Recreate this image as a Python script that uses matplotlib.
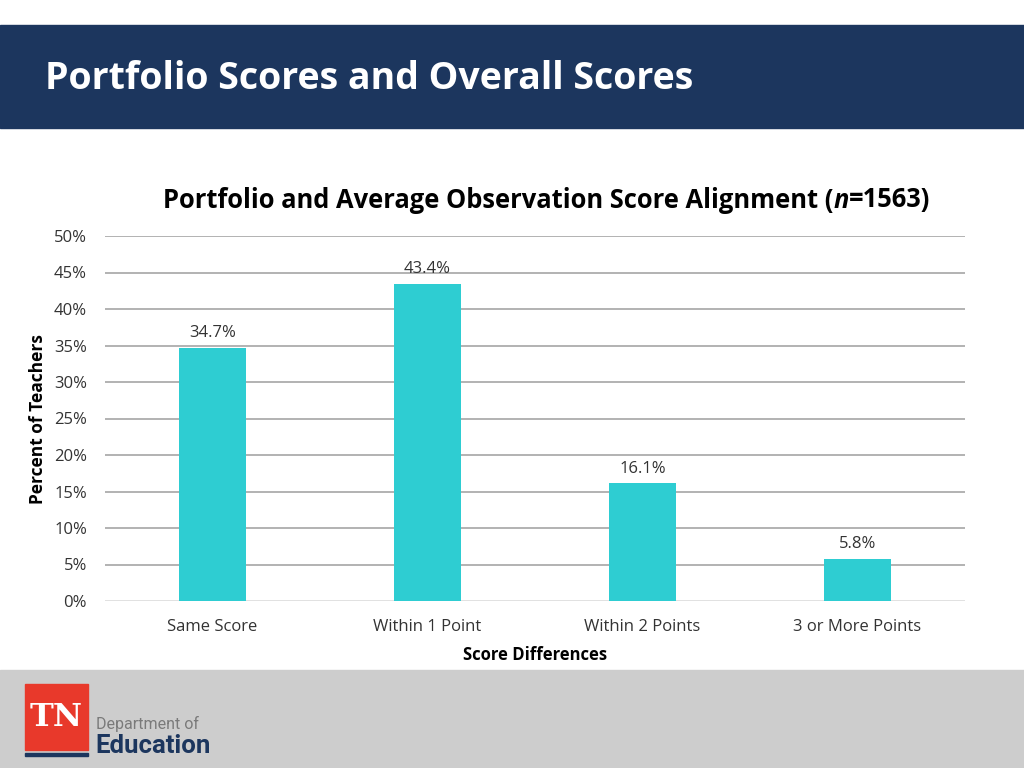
import matplotlib.pyplot as plt
from matplotlib.patches import Rectangle

categories = ["Same Score", "Within 1 Point", "Within 2 Points", "3 or More Points"]
percents = [34.7, 43.4, 16.1, 5.8]
yticks = [0, 5, 10, 15, 20, 25, 30, 35, 40, 45, 50]

navy = "#1c365e"
teal = "#2ecdd2"
W, H = 1024, 768

plt.rcParams['font.family'] = ['Open Sans', 'DejaVu Sans']

fig = plt.figure(figsize=(10.24, 7.68), dpi=100)

# background bands (header, footer)
fig.patches.append(Rectangle((0, 1 - 128 / H), 1, 103 / H, transform=fig.transFigure,
                             color=navy, zorder=0))
fig.patches.append(Rectangle((0, 0), 1, 98 / H, transform=fig.transFigure,
                             color="#cdcdcd", zorder=0))
fig.text(45 / W, 1 - 79 / H, "Portfolio Scores and Overall Scores", color="white",
         fontsize=27, fontweight="bold", va="center", ha="left", family="Open Sans")

# logo
fig.patches.append(Rectangle((25 / W, 1 - 750 / H), 63 / W, 66 / H, transform=fig.transFigure,
                             color="#e8392b", zorder=1))
fig.patches.append(Rectangle((25 / W, 1 - 756 / H), 63 / W, 3 / H, transform=fig.transFigure,
                             color=navy, zorder=1))
fig.text(56 / W, 1 - 717 / H, "TN", color="white", fontsize=23, family="DejaVu Serif",
         fontweight="bold", ha="center", va="center")
fig.text(96 / W, 1 - 724 / H, "Department of", color="#7a7a7a", fontsize=11.5,
         ha="left", va="center", family="Roboto")
fig.text(95 / W, 1 - 746 / H, "Education", color=navy, fontsize=18.5, fontweight="bold",
         ha="left", va="center", family="Roboto")

ax = fig.add_axes([105 / W, 1 - 601 / H, 860 / W, 365 / H])
x = range(len(categories))
bars = ax.bar(x, percents, width=0.316, color=teal, zorder=3)
for b, v in zip(bars, percents):
    ax.annotate(f"{v}%", (b.get_x() + b.get_width() / 2, v), xytext=(0, 5),
                textcoords="offset points", ha="center", va="bottom",
                fontsize=12, color="#333333")

ax.set_xlim(-0.5, 3.5)
ax.set_ylim(0, 50)
ax.set_yticks(yticks)
ax.set_yticklabels([f"{t}%" for t in yticks])
ax.set_xticks(list(x))
ax.set_xticklabels(categories)
ax.tick_params(axis="both", length=0, labelsize=12, colors="#333333")
ax.tick_params(axis="y", pad=13)
ax.tick_params(axis="x", pad=13)
ax.yaxis.grid(True, color="#a6a6a6", linewidth=1.2)
ax.get_ygridlines()[0].set_color("#dcdcdc")
ax.set_axisbelow(True)
for s in ["top", "right", "left", "bottom"]:
    ax.spines[s].set_visible(False)

ax.set_xlabel("Score Differences", fontsize=12, fontweight="bold", labelpad=8)
fig.text(38 / W, 1 - 419 / H, "Percent of Teachers", rotation=90, fontsize=12.5,
         fontweight="bold", ha="center", va="center")

# chart title with italic n
fig.canvas.draw()
r = fig.canvas.get_renderer()
parts = [("Portfolio and Average Observation Score Alignment (", "normal"),
         ("n", "italic"), ("=1563)", "normal")]
texts = []
for s, st in parts:
    texts.append(fig.text(0, 1 - 200 / H, s, fontsize=18.4, fontweight="bold",
                          style=st, ha="left", va="center"))
widths = [t.get_window_extent(r).width for t in texts]
xpos = 547 - sum(widths) / 2
for t, w in zip(texts, widths):
    t.set_x(xpos / W)
    xpos += w

fig.savefig("out.png", dpi=100)
